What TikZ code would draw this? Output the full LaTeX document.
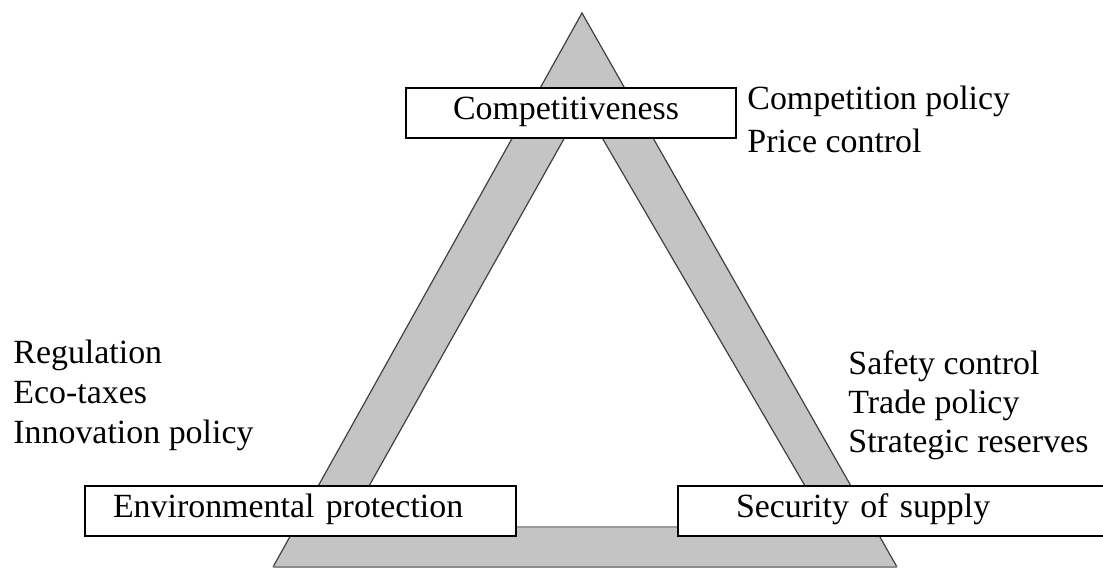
\documentclass[tikz,border=0pt]{standalone}
\usepackage{fontspec}
\setmainfont{Liberation Serif}
\definecolor{bandgray}{RGB}{196,196,196}
\tikzset{
	goalbox/.style={draw, line width=1pt, fill=white, anchor=north west, inner ysep=0pt,
		minimum height=25pt, align=left, text height=0.8em, text depth=0.12em,
		font=\fontsize{16.95pt}{20pt}\selectfont},
	toollist/.style={anchor=base west, inner sep=0pt, align=left,
		font=\fontsize{16.95pt}{20pt}\selectfont},
}
\begin{document}
\begin{tikzpicture}[x=0.5pt, y=-0.5pt]
	\useasboundingbox (0,0) rectangle (1103,569);
	\clip (0,0) rectangle (1103,569);
	% outer and inner corners of the triangle band
	\coordinate (top) at (582,13);
	\coordinate (left) at (273,567);
	\coordinate (right) at (897,567);
	\coordinate (itop) at (583,105);
	\coordinate (ileft) at (346,527);
	\coordinate (iright) at (829,527);
	\fill[bandgray, even odd rule] (top) -- (right) -- (left) -- cycle (itop) -- (iright) -- (ileft) -- cycle;
	\draw[black!75, line width=0.6pt] (left) -- (top) -- (right);
	\draw[black!75, line width=0.6pt] (ileft) -- (itop) -- (iright);
	\draw[black!45, line width=1pt] (left) -- (right);
	\draw[black!40, line width=0.6pt] (ileft) -- (iright);
	% goals
	\node[goalbox, inner xsep=23.5pt, text width=118pt] (comp) at (405,87) {Competitiveness};
	\node[goalbox, inner xsep=14pt, text width=187.5pt] (env) at (84,485) {Environmental protection};
	\node[goalbox, inner xsep=29pt, text width=180pt] (sec) at (677,485) {Security of supply};
	% instruments (base = last line)
	\node[toollist, font=\fontsize{16.95pt}{21.5pt}\selectfont] (comptools) at (747,152) {Competition policy\\Price control};
	\node[toollist] (envtools) at (13,443) {Regulation\\Eco-taxes\\Innovation policy};
	\node[toollist, font=\fontsize{16.95pt}{19.5pt}\selectfont] (sectools) at (848,452) {Safety control\\Trade policy\\Strategic reserves};
\end{tikzpicture}
\end{document}
